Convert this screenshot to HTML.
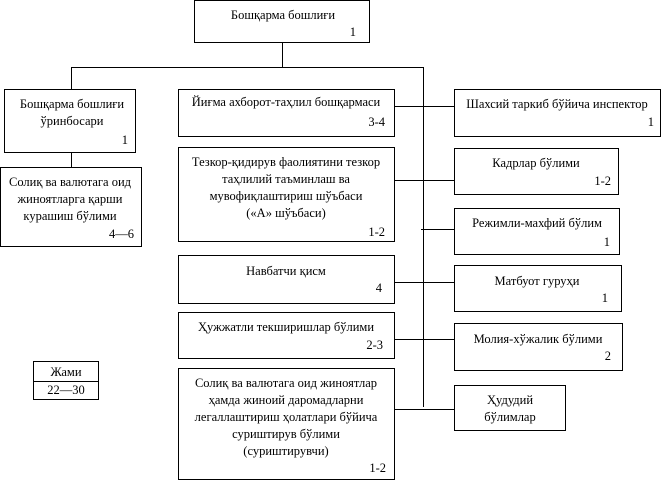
<!DOCTYPE html>
<html><head><meta charset="utf-8"><style>
html,body{margin:0;padding:0;background:#fff;}
svg, svg text{font-family:"Liberation Serif","Times New Roman","DejaVu Serif",serif;font-size:12.5px;fill:#000;}
</style></head><body>
<svg width="666" height="481" viewBox="0 0 666 481" xmlns="http://www.w3.org/2000/svg" font-family="Liberation Serif, serif" font-size="12.5">
<g fill="none" stroke="#000" stroke-width="1">
<rect x="194.5" y="0.5" width="175" height="42"/>
<rect x="4.5" y="89.5" width="131" height="63"/>
<rect x="0.5" y="167.5" width="141" height="79"/>
<rect x="178.5" y="89.5" width="216" height="47"/>
<rect x="178.5" y="147.5" width="216" height="94"/>
<rect x="178.5" y="255.5" width="216" height="48"/>
<rect x="178.5" y="312.5" width="216" height="46"/>
<rect x="178.5" y="368.5" width="216" height="111"/>
<rect x="454.5" y="89.5" width="206" height="47"/>
<rect x="454.5" y="148.5" width="164" height="46"/>
<rect x="454.5" y="208.5" width="165" height="46"/>
<rect x="454.5" y="265.5" width="167" height="46"/>
<rect x="454.5" y="323.5" width="168" height="47"/>
<rect x="454.5" y="385.5" width="111" height="45"/>
<rect x="33.5" y="361.5" width="65" height="38"/>
<line x1="33" y1="381.5" x2="98" y2="381.5"/>
<line x1="282.5" y1="42" x2="282.5" y2="67"/>
<line x1="71" y1="67.5" x2="424" y2="67.5"/>
<line x1="71.5" y1="67" x2="71.5" y2="89"/>
<line x1="71.5" y1="152" x2="71.5" y2="167"/>
<line x1="423.5" y1="67" x2="423.5" y2="407"/>
<line x1="394" y1="106.5" x2="454" y2="106.5"/>
<line x1="394" y1="180.5" x2="454" y2="180.5"/>
<line x1="421" y1="229.5" x2="454" y2="229.5"/>
<line x1="394" y1="282.5" x2="454" y2="282.5"/>
<line x1="394" y1="339.5" x2="454" y2="339.5"/>
<line x1="394" y1="409.5" x2="454" y2="409.5"/>
</g>
<g text-anchor="middle">
<text x="283" y="19">Бошқарма бошлиғи</text>
<text x="72" y="108">Бошқарма бошлиғи</text>
<text x="72" y="125">ўринбосари</text>
<text x="70" y="186">Солиқ ва валютага оид</text>
<text x="70" y="203">жиноятларга қарши</text>
<text x="70" y="220">курашиш бўлими</text>
<text x="286" y="106">Йиғма ахборот-таҳлил бошқармаси</text>
<text x="286" y="166">Тезкор-қидирув фаолиятини тезкор</text>
<text x="286" y="183">таҳлилий таъминлаш ва</text>
<text x="286" y="200">мувофиқлаштириш шўъбаси</text>
<text x="286" y="217">(«А» шўъбаси)</text>
<text x="286" y="275">Навбатчи қисм</text>
<text x="286" y="331">Ҳужжатли текширишлар бўлими</text>
<text x="286" y="387">Солиқ ва валютага оид жиноятлар</text>
<text x="286" y="404">ҳамда жиноий даромадларни</text>
<text x="286" y="421">легаллаштириш ҳолатлари бўйича</text>
<text x="286" y="438">суриштирув бўлими</text>
<text x="286" y="455">(суриштирувчи)</text>
<text x="557" y="108">Шахсий таркиб бўйича инспектор</text>
<text x="536" y="167">Кадрлар бўлими</text>
<text x="537" y="227">Режимли-махфий бўлим</text>
<text x="537" y="285">Матбуот гуруҳи</text>
<text x="538" y="343">Молия-хўжалик бўлими</text>
<text x="510" y="404">Ҳудудий</text>
<text x="510" y="421">бўлимлар</text>
<text x="66" y="376">Жами</text>
<text x="66" y="394">22—30</text>
</g>
<g text-anchor="end">
<text x="356" y="36">1</text>
<text x="128" y="144">1</text>
<text x="134" y="238">4—6</text>
<text x="385" y="126">3-4</text>
<text x="385" y="236">1-2</text>
<text x="382" y="292">4</text>
<text x="383" y="349">2-3</text>
<text x="386" y="472">1-2</text>
<text x="654" y="126">1</text>
<text x="611" y="185">1-2</text>
<text x="610" y="246">1</text>
<text x="608" y="302">1</text>
<text x="611" y="360">2</text>
</g>
</svg>
</body></html>
